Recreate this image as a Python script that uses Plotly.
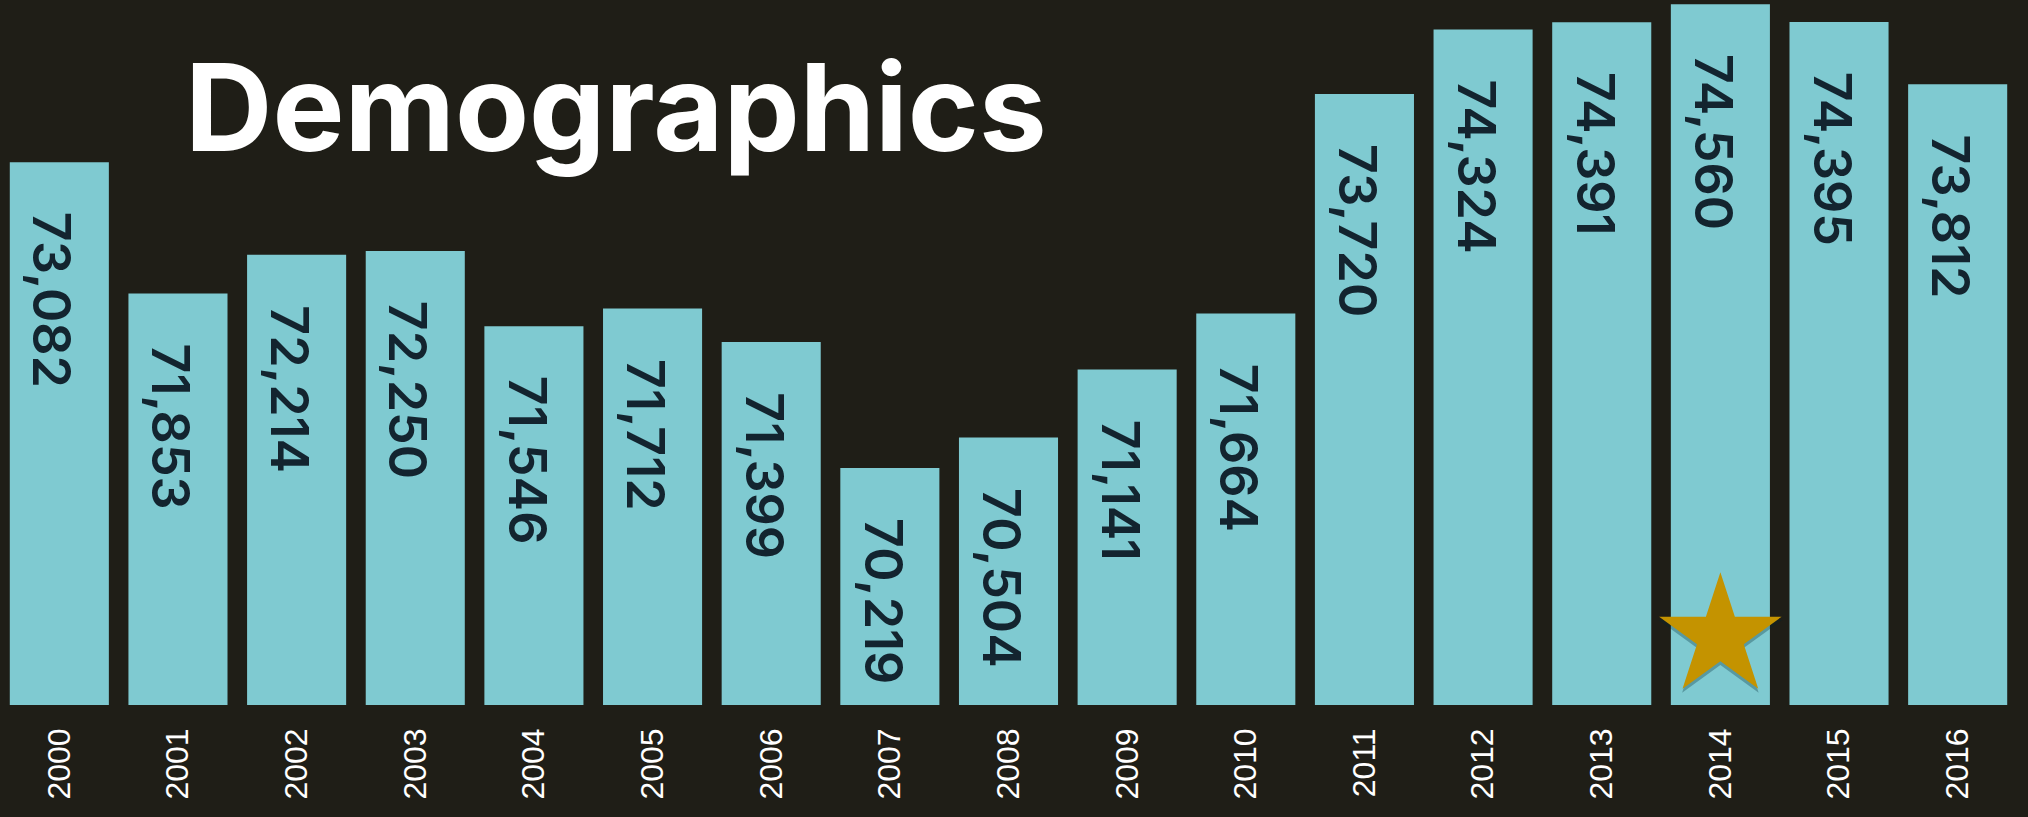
import plotly.graph_objects as go

# ---- data ----
years = ["2000", "2001", "2002", "2003", "2004", "2005", "2006", "2007", "2008",
         "2009", "2010", "2011", "2012", "2013", "2014", "2015", "2016"]
values = [73082, 71853, 72214, 72250, 71546, 71712, 71399, 70219, 70504,
          71141, 71664, 73720, 74324, 74391, 74560, 74395, 73812]
highlight_year = "2014"
title_text = "Demographics"

# ---- style ----
BG = "#1F1E17"
BAR = "#7FCAD1"
LABEL = "#13242F"
STAR = "#C49300"

fig = go.Figure()
fig.add_trace(go.Bar(
    x=years, y=values, marker=dict(color=BAR, line=dict(width=0)),
    hoverinfo="skip", showlegend=False,
))

# highlight star (overlay axis in 0..1 space)
fig.add_trace(go.Scatter(
    x=[highlight_year], y=[0.092], yaxis="y2", mode="markers",
    marker=dict(symbol="star", size=93, color="rgba(0,40,50,0.30)", line=dict(width=0)),
    hoverinfo="skip", showlegend=False,
))
fig.add_trace(go.Scatter(
    x=[highlight_year], y=[0.097], yaxis="y2", mode="markers",
    marker=dict(symbol="star", size=92, color=STAR, line=dict(width=0)),
    hoverinfo="skip", showlegend=False,
))

annotations = []
for i, v in enumerate(values):
    annotations.append(dict(
        x=i, y=v, xref="x", yref="y", text=f"{v:,}", showarrow=False,
        textangle=90, xanchor="center", yanchor="top", yshift=-48, xshift=-7,
        font=dict(family="Inter", size=52, color=LABEL, weight=600),
    ))
annotations.append(dict(
    x=183 / 2017, y=1 - 107 / 705, xref="paper", yref="paper", text=title_text,
    showarrow=False, xanchor="left", yanchor="middle",
    font=dict(family="Inter", size=121, color="white", weight=700),
))

fig.update_layout(
    width=2028, height=817,
    margin=dict(l=0, r=11, t=0, b=112),
    paper_bgcolor=BG, plot_bgcolor=BG,
    bargap=0.165,
    xaxis=dict(
        type="category", range=[-0.5, 16.5], showgrid=False, zeroline=False,
        showline=False, ticks="", tickangle=-90, ticklabelstandoff=16,
        tickfont=dict(family="Liberation Sans", size=32, color="white"),
    ),
    yaxis=dict(range=[68000, 74600], showgrid=False, zeroline=False,
               showticklabels=False, showline=False),
    yaxis2=dict(range=[0, 1], overlaying="y", visible=False),
    annotations=annotations,
)

fig.write_html("out.html", config={"displayModeBar": False},
               post_script="document.body.style.margin='0';document.body.style.background='%s';" % BG)
